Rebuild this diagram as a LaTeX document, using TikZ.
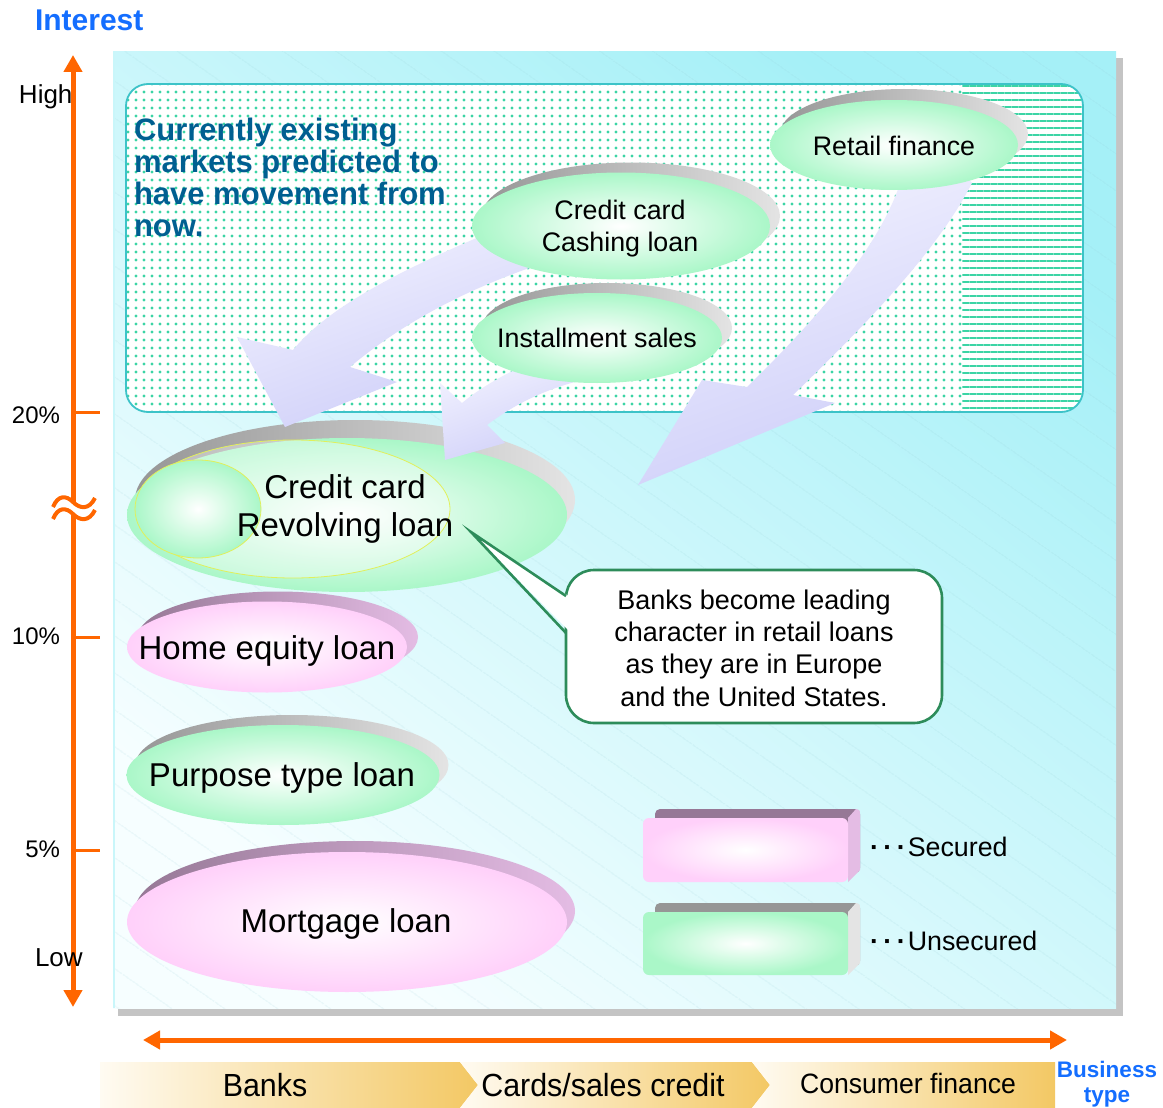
\documentclass[tikz,border=0pt]{standalone}
\usepackage{fontspec}
\setmainfont{Liberation Sans}
\newfontfamily\narrowsans{Liberation Sans}[FakeStretch=0.95]
\usetikzlibrary{shapes.geometric,arrows.meta,patterns.meta}

\newcommand{\setfs}[2]{\fontsize{#1}{#2}\selectfont}
\newcommand{\leaderdots}{{\bfseries ·\hspace{4.5pt}·\hspace{4.5pt}·\hspace{2pt}}}

\definecolor{orangeaxis}{RGB}{255,102,0}
\definecolor{titleblue}{RGB}{20,110,255}
\definecolor{headteal}{RGB}{0,95,145}
\definecolor{boxteal}{RGB}{60,195,200}
\definecolor{dotgreen}{RGB}{60,212,165}
\definecolor{mintc}{RGB}{170,247,200}
\definecolor{pinkc}{RGB}{255,208,250}
\definecolor{rimgreyA}{RGB}{150,150,150}
\definecolor{rimgreyB}{RGB}{228,228,228}
\definecolor{rimpinkA}{RGB}{150,120,150}
\definecolor{rimpinkB}{RGB}{228,188,228}
\definecolor{arrowlight}{RGB}{242,242,255}
\definecolor{arrowdark}{RGB}{205,205,248}
\definecolor{notegreen}{RGB}{45,140,90}
\definecolor{panelcyan}{RGB}{165,240,247}
\definecolor{panelpale}{RGB}{246,254,255}
\definecolor{panelline}{RGB}{140,200,210}
\definecolor{bandgold}{RGB}{243,200,100}
\definecolor{bandpale}{RGB}{255,251,242}
\definecolor{lineyellow}{RGB}{225,240,90}
\definecolor{shadowgrey}{RGB}{196,196,196}

\begin{document}
\begin{tikzpicture}[x=1pt,y=-1pt,
  every node/.style={inner sep=0pt, outer sep=0pt},
  rimgreen/.style={ellipse, left color=rimgreyA, right color=rimgreyB},
  rimpink/.style={ellipse, left color=rimpinkA, right color=rimpinkB},
  facegreen/.style={ellipse, inner color=white, outer color=mintc},
  facepink/.style={ellipse, inner color=white, outer color=pinkc},
  disclabel/.style={font=\setfs{26.8}{32}, align=center},
  biglabel/.style={font=\setfs{33}{38}, align=center},
  movearrow/.style={top color=arrowlight, bottom color=arrowdark, shading angle=20},
  axisline/.style={draw=orangeaxis, line width=5pt},
  tickline/.style={draw=orangeaxis, line width=3pt},
  ticklabel/.style={font=\setfs{24}{24}},
  bandlabel/.style={font=\narrowsans\setfs{32}{32}},
  legendlabel/.style={font=\setfs{26.8}{32}, anchor=west},
  bizlabel/.style={font=\bfseries\setfs{22.5}{22.5}, text=titleblue, anchor=base}
]
\useasboundingbox (0,0) rectangle (1163,1108);

% ---------- panel with its shadow ----------
\fill[shadowgrey] (1116,58) rectangle (1123,1016);
\fill[shadowgrey] (118,1009) rectangle (1123,1016);
\shade[top color=panelcyan, bottom color=panelpale, shading angle=-40] (113,52) rectangle (1116,1008);
\fill[pattern={Lines[angle=-35,distance=30pt,line width=0.5pt]}, pattern color=panelline, fill opacity=0.3] (113,52) rectangle (1116,1008);
\draw[draw=panelcyan!60!white, line width=1.5pt] (114,52) -- (114,1008);

% ---------- dotted region of existing markets ----------
\begin{scope}
  \clip[rounded corners=22pt] (126,84) rectangle (1083,412);
  \fill[white] (126,84) rectangle (1083,412);
  \fill[pattern={Dots[distance=8pt,radius=1.6pt]}, pattern color=dotgreen] (126,84) rectangle (962,412);
  \fill[pattern={Lines[distance=7pt,line width=2.8pt]}, pattern color=dotgreen] (962,84) rectangle (1083,412);
\end{scope}
\draw[draw=boxteal, line width=1.8pt, rounded corners=22pt] (126,84) rectangle (1083,412);

\node[anchor=north west, align=left, font=\bfseries\setfs{31}{32}, text=headteal] (headline) at (134,118)
  {Currently existing\\markets predicted to\\have movement from\\now.};

% ---------- credit card revolving loan ----------
\node[rimgreen, minimum width=440pt, minimum height=160pt] (revolving-rim) at (355,500) {};
\node[facegreen, minimum width=440pt, minimum height=154pt] (revolving-face) at (347,515) {};
\draw[draw=lineyellow, line width=0.8pt, fill=white, fill opacity=0.35] (293,509) ellipse [x radius=157, y radius=69];
\shade[draw=lineyellow, line width=0.8pt, inner color=white, outer color=mintc] (198,509) ellipse [x radius=63, y radius=49];
\node[biglabel] (revolving) at (345,509) {Credit card\\Revolving loan};

% ---------- movement arrows ----------
\shade[movearrow] (500,228) .. controls (405,268) and (330,305) .. (293,350)
  -- (237,337) -- (285,427) -- (397,382) -- (350,367)
  .. controls (400,325) and (460,292) .. (535,266) -- cycle;
\shade[movearrow] (545,356) .. controls (505,373) and (480,388) .. (462,403)
  -- (440,383) -- (445,460) -- (505,443) -- (487,425)
  .. controls (520,400) and (555,385) .. (600,376) -- cycle;
\shade[movearrow] (905,170) -- (897,192) .. controls (870,262) and (800,335) .. (747,387)
  -- (702,380) -- (638,485) -- (835,403) -- (793,395)
  .. controls (860,330) and (935,255) .. (972,183) -- (960,170) -- cycle;

% ---------- existing market discs ----------
\node[rimgreen, minimum width=298pt, minimum height=107pt] (cashing-rim) at (631,216) {};
\node[facegreen, minimum width=298pt, minimum height=107pt] (cashing-face) at (621,226) {};
\node[disclabel] (cashing) at (620,229) {Credit card\\Cashing loan};

\node[rimgreen, minimum width=250pt, minimum height=90pt] (install-rim) at (607,328) {};
\node[facegreen, minimum width=250pt, minimum height=90pt] (install-face) at (597,338) {};
\node[disclabel] (install) at (597,338) {Installment sales};

\node[rimgreen, minimum width=248pt, minimum height=90pt] (retail-rim) at (904,134) {};
\node[facegreen, minimum width=248pt, minimum height=90pt] (retail-face) at (894,145) {};
\node[disclabel] (retail) at (894,146) {Retail finance};

% ---------- bank loans ----------
\node[rimpink, minimum width=280pt, minimum height=91pt] (homeeq-rim) at (278,637) {};
\node[facepink, minimum width=280pt, minimum height=91pt] (homeeq-face) at (267,647) {};
\node[biglabel] (homeeq) at (267,651) {Home equity loan};

\node[rimgreen, minimum width=313pt, minimum height=100pt] (purpose-rim) at (292,765) {};
\node[facegreen, minimum width=313pt, minimum height=100pt] (purpose-face) at (283,775) {};
\node[biglabel] (purpose) at (282,778) {Purpose type loan};

\node[rimpink, minimum width=440pt, minimum height=140pt] (mortgage-rim) at (355,911) {};
\node[facepink, minimum width=440pt, minimum height=140pt] (mortgage-face) at (347,922) {};
\node[biglabel] (mortgage) at (346,924) {Mortgage loan};

% ---------- callout ----------
\draw[draw=notegreen, line width=2.6pt, fill=white, rounded corners=28pt] (566,570) rectangle (942,723);
\coordinate (notetip) at (471,532);
\fill[white] (570,597) -- (notetip) -- (570,632) -- cycle;
\draw[draw=notegreen, line width=2.6pt, line join=miter] (566,596) -- (notetip) -- (566,633);
\node[align=center, font=\setfs{27}{32.3}] (note) at (754,648)
  {Banks become leading\\character in retail loans\\as they are in Europe\\and the United States.};

% ---------- legend ----------
\fill[rimpinkA, rounded corners=5pt] (655,809) rectangle (860,873);
\fill[rimpinkB] (848,818) -- (856,809) .. controls (860,810) .. (860,815) -- (860,870) -- (848,882) -- cycle;
\shade[inner color=white, outer color=pinkc, rounded corners=6pt] (643,818) rectangle (848,882);
\node[legendlabel] (secured) at (870,847) {\leaderdots Secured};

\fill[rimgreyA, rounded corners=5pt] (655,903) rectangle (860,966);
\fill[rimgreyB] (848,912) -- (856,903) .. controls (860,904) .. (860,909) -- (860,963) -- (848,975) -- cycle;
\shade[inner color=white, outer color=mintc, rounded corners=6pt] (643,912) rectangle (848,975);
\node[legendlabel] (unsecured) at (870,941) {\leaderdots Unsecured};

% ---------- interest axis ----------
\node[anchor=base west, font=\bfseries\setfs{30}{30}, text=titleblue] (interest) at (35,31) {Interest};
\coordinate (ybot) at (73,1007);
\coordinate (ytop) at (73,55);
\draw[axisline, {Triangle[length=17pt,width=18pt]}-{Triangle[length=17pt,width=18pt]}] (ybot) -- (ytop);
\coordinate (t20) at (73,412);
\coordinate (t10) at (73,637);
\coordinate (t5) at (73,850);
\draw[tickline] (t20) -- ++(27,0);
\draw[tickline] (t10) -- ++(27,0);
\draw[tickline] (t5) -- ++(27,0);
\node[anchor=base west, font=\setfs{26}{26}] (high) at (19,103) {High};
\node[anchor=base east, ticklabel] (p20) at (60,423) {20\%};
\node[anchor=base east, ticklabel] (p10) at (60,644) {10\%};
\node[anchor=base east, ticklabel] (p5) at (60,857) {5\%};
\node[anchor=base west, font=\setfs{26}{26}] (low) at (35,966) {Low};
% axis break
\fill[white] (69,503) rectangle (77,515);
\draw[draw=orangeaxis, line width=4pt] (53,507) .. controls (58,495) and (66,495) .. (73,502) .. controls (80,509) and (89,510) .. (95,498);
\draw[draw=orangeaxis, line width=4pt] (53,519) .. controls (58,507) and (66,507) .. (73,514) .. controls (80,521) and (89,522) .. (95,510);

% ---------- business type axis ----------
\coordinate (xleft) at (143,1040);
\coordinate (xright) at (1067,1040);
\draw[axisline, {Triangle[length=17pt,width=18pt]}-{Triangle[length=17pt,width=18pt]}] (xleft) -- (xright);

\shade[left color=bandpale, right color=bandgold] (100,1062) -- (460,1062) -- (478,1085) -- (460,1108) -- (100,1108) -- cycle;
\shade[left color=bandpale, right color=bandgold] (460,1062) -- (752,1062) -- (770,1085) -- (752,1108) -- (460,1108) -- (478,1085) -- cycle;
\shade[left color=bandpale, right color=bandgold] (752,1062) -- (1055,1062) -- (1055,1108) -- (752,1108) -- (770,1085) -- cycle;
\node[anchor=base, bandlabel] (banks) at (265,1096) {Banks};
\node[anchor=base, bandlabel] (cards) at (603,1096) {Cards/sales credit};
\node[anchor=base, font=\narrowsans\setfs{28}{28}] (consumer) at (908,1093) {Consumer finance};
\node[bizlabel] (business) at (1107,1077) {Business};
\node[bizlabel] (biztype) at (1107,1102) {type};
\end{tikzpicture}
\end{document}
